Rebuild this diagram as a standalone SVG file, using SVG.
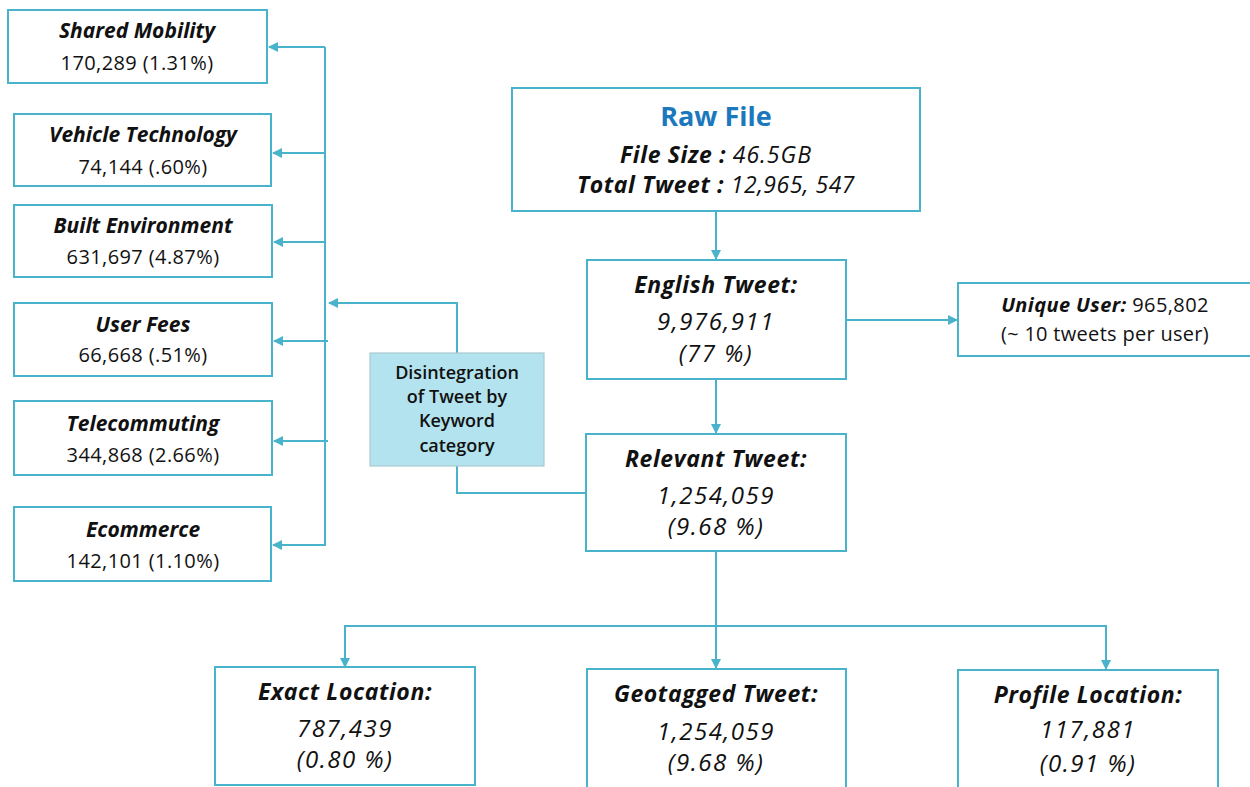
<svg xmlns="http://www.w3.org/2000/svg" width="1250" height="787" viewBox="0 0 1250 787">
<style>
.box{fill:#fff;stroke:#4ab3cc;stroke-width:2}
.dis{fill:#b3e3ee;stroke:#a9c9d2;stroke-width:1.2}
text{font-family:"Open Sans","Liberation Sans",sans-serif;fill:#111;text-anchor:middle}
.h{font-weight:bold;font-style:italic;font-size:21px}
.n{font-size:20px;letter-spacing:0.4px}
.ni{font-size:24px;font-style:italic;letter-spacing:1.5px}
.t{font-weight:bold;font-style:italic;font-size:23px;letter-spacing:0.6px}
.d{font-size:18px;font-weight:600}
.c{fill:none;stroke:#4ab3cc;stroke-width:2}
</style>
<defs>
<marker id="ah" viewBox="0 0 10 10" refX="9" refY="5" markerWidth="10" markerHeight="10" markerUnits="userSpaceOnUse" orient="auto">
<path d="M0,0 L10,5 L0,10 z" fill="#4ab3cc"/>
</marker>
</defs>
<g id="connectors">
<path class="c" d="M325,47 V546"/>
<path class="c" d="M325,47 H269" marker-end="url(#ah)"/>
<path class="c" d="M325,153 H273" marker-end="url(#ah)"/>
<path class="c" d="M325,242 H274" marker-end="url(#ah)"/>
<path class="c" d="M328,341 H274" marker-end="url(#ah)"/>
<path class="c" d="M328,441 H274" marker-end="url(#ah)"/>
<path class="c" d="M325,545 H273" marker-end="url(#ah)"/>
<path class="c" d="M457,353 V303 H329" marker-end="url(#ah)"/>
<path class="c" d="M457,466 V493 H586"/>
<path class="c" d="M716,211 V259" marker-end="url(#ah)"/>
<path class="c" d="M846,320 H957" marker-end="url(#ah)"/>
<path class="c" d="M716,379 V433" marker-end="url(#ah)"/>
<path class="c" d="M716,551 V668" marker-end="url(#ah)"/>
<path class="c" d="M345,666 V626 H1106 V669" marker-end="url(#ah)"/>
<path d="M345,636 V667" class="c" marker-end="url(#ah)"/>
</g>
<g id="shared-mobility">
<rect class="box" x="8" y="10" width="259" height="73"/>
<text class="h" x="137" y="38">Shared Mobility</text>
<text class="n" x="137" y="70">170,289 (1.31%)</text>
</g>
<g id="vehicle-technology">
<rect class="box" x="14" y="114" width="257" height="72"/>
<text class="h" x="143" y="142">Vehicle Technology</text>
<text class="n" x="143" y="174">74,144 (.60%)</text>
</g>
<g id="built-environment">
<rect class="box" x="14" y="205" width="258" height="72"/>
<text class="h" x="143" y="233">Built Environment</text>
<text class="n" x="143" y="264">631,697 (4.87%)</text>
</g>
<g id="user-fees">
<rect class="box" x="14" y="303" width="258" height="73"/>
<text class="h" x="143" y="332">User Fees</text>
<text class="n" x="143" y="362">66,668 (.51%)</text>
</g>
<g id="telecommuting">
<rect class="box" x="14" y="401" width="258" height="74"/>
<text class="h" x="143" y="431">Telecommuting</text>
<text class="n" x="143" y="462">344,868 (2.66%)</text>
</g>
<g id="ecommerce">
<rect class="box" x="14" y="507" width="257" height="74"/>
<text class="h" x="143" y="537">Ecommerce</text>
<text class="n" x="143" y="568">142,101 (1.10%)</text>
</g>
<g id="disintegration">
<rect class="dis" x="370" y="353" width="174" height="113"/>
<text class="d" x="457" y="379">Disintegration</text>
<text class="d" x="457" y="403">of Tweet by</text>
<text class="d" x="457" y="427">Keyword</text>
<text class="d" x="457" y="452">category</text>
</g>
<g id="raw-file">
<rect class="box" x="512" y="88" width="408" height="123"/>
<text x="716" y="126" font-size="27" font-weight="bold" style="fill:#1b78bd">Raw File</text>
<text x="716" y="163" font-size="23"><tspan class="t">File Size : </tspan><tspan font-style="italic" letter-spacing="1">46.5GB</tspan></text>
<text x="716" y="193" font-size="23"><tspan class="t">Total Tweet : </tspan><tspan font-style="italic" letter-spacing="0.5">12,965, 547</tspan></text>
</g>
<g id="english-tweet">
<rect class="box" x="587" y="260" width="259" height="119"/>
<text class="t" x="716" y="293">English Tweet:</text>
<text class="ni" x="716" y="330">9,976,911</text>
<text class="ni" x="716" y="362">(77 %)</text>
</g>
<g id="unique-user">
<rect class="box" x="958" y="283" width="300" height="73"/>
<text x="1105" y="312" font-size="20" letter-spacing="0.4"><tspan font-weight="bold" font-style="italic">Unique User:</tspan> 965,802</text>
<text x="1105" y="341" font-size="20" letter-spacing="0.3">(~ 10 tweets per user)</text>
</g>
<g id="relevant-tweet">
<rect class="box" x="586" y="434" width="260" height="117"/>
<text class="t" x="716" y="467">Relevant Tweet:</text>
<text class="ni" x="716" y="504">1,254,059</text>
<text class="ni" x="716" y="535">(9.68 %)</text>
</g>
<g id="exact-location">
<rect class="box" x="215" y="667" width="260" height="118"/>
<text class="t" x="345" y="700">Exact Location:</text>
<text class="ni" x="345" y="737">787,439</text>
<text class="ni" x="345" y="768">(0.80 %)</text>
</g>
<g id="geotagged-tweet">
<rect class="box" x="587" y="669" width="259" height="122"/>
<text class="t" x="716" y="702">Geotagged Tweet:</text>
<text class="ni" x="716" y="740">1,254,059</text>
<text class="ni" x="716" y="771">(9.68 %)</text>
</g>
<g id="profile-location">
<rect class="box" x="958" y="670" width="260" height="121"/>
<text class="t" x="1088" y="703">Profile Location:</text>
<text class="ni" x="1088" y="738">117,881</text>
<text class="ni" x="1088" y="772">(0.91 %)</text>
</g>
</svg>
